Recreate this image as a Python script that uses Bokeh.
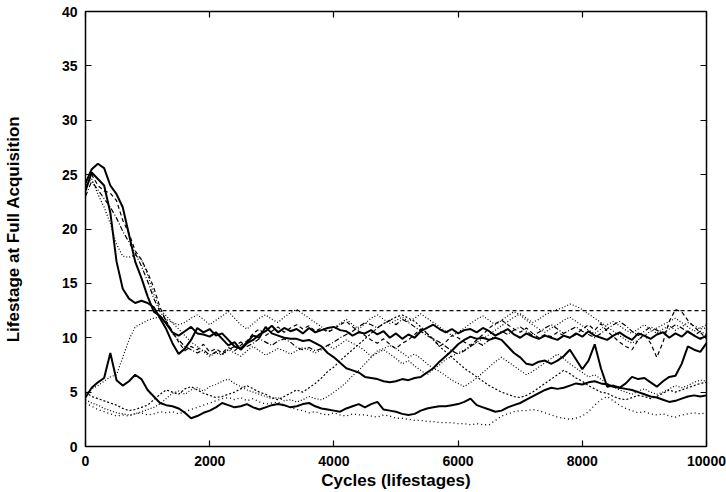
from bokeh.plotting import figure
from bokeh.models import Range1d, LinearAxis, FixedTicker, CustomJSTickFormatter, Span
from bokeh.embed import file_html
from bokeh.resources import INLINE

cycles = list(range(0, 10001, 100))

run_solid_a = [23.5, 25.2, 24.6, 24.0, 21.5, 17.0, 14.5, 13.6, 13.2, 13.4, 13.2, 12.8, 11.8, 10.8, 9.5, 8.5, 9.0, 9.8, 10.9, 10.5,
               10.8, 10.2, 10.4, 9.8, 9.2, 9.0, 9.6, 10.2, 10.0, 11.0, 10.4, 10.2, 10.0, 9.9, 9.9, 9.7, 9.8, 9.5, 9.2, 8.6,
               8.2, 7.7, 7.2, 7.0, 6.8, 6.4, 6.3, 6.2, 6.0, 5.9, 6.0, 6.2, 6.1, 6.3, 6.4, 6.8, 7.2, 7.8, 8.3, 8.8,
               9.4, 9.8, 10.1, 9.9, 10.0, 9.8, 10.0, 9.8, 9.2, 8.6, 8.2, 7.6, 7.5, 7.8, 7.9, 7.6, 7.9, 8.3, 8.9, 8.0,
               7.1, 7.9, 9.4, 7.2, 5.5, 5.6, 5.4, 5.8, 6.4, 6.2, 6.3, 5.9, 5.5, 6.0, 6.4, 6.5, 7.6, 9.2, 8.9, 8.7, 9.5]

run_solid_b = [24.2, 25.5, 26.0, 25.6, 24.0, 23.2, 22.0, 19.5, 17.0, 15.5, 13.8, 12.4, 12.0, 11.3, 10.5, 10.2, 10.6, 11.0, 10.4, 10.3,
               10.1, 10.5, 9.9, 9.3, 9.6, 8.9, 9.5, 9.8, 10.3, 10.6, 11.1, 10.5, 10.9, 10.6, 10.8, 10.4, 10.9, 10.5, 10.7, 10.9,
               11.0, 10.7, 10.6, 10.2, 10.5, 10.4, 10.7, 10.3, 10.6, 10.0, 10.4, 9.9, 10.3, 10.0, 10.6, 10.9, 11.2, 10.8, 10.5, 10.8,
               10.4, 10.7, 10.8, 10.5, 10.9, 10.6, 10.2, 10.5, 10.8, 10.3, 10.0, 10.4, 10.1, 9.9, 10.2, 10.0, 9.8, 10.2, 10.0, 10.4,
               10.1, 10.6, 10.2, 10.0, 9.8, 10.2, 10.5, 10.1, 9.8, 10.4, 10.2, 9.9, 10.3, 10.5, 10.0, 10.4, 10.1, 10.6, 10.2, 9.9, 10.2]

run_solid_c = [4.5, 5.4, 5.9, 6.3, 8.6, 6.1, 5.6, 6.0, 6.6, 6.2, 5.2, 4.6, 4.0, 3.8, 3.7, 3.5, 3.1, 2.6, 2.8, 3.1,
               3.3, 3.6, 4.0, 3.8, 3.6, 3.7, 3.9, 3.6, 3.4, 3.6, 3.8, 3.9, 3.8, 3.6, 3.7, 3.9, 4.0, 3.7, 3.5, 3.4,
               3.3, 3.2, 3.5, 3.7, 3.9, 3.6, 3.9, 4.1, 3.4, 3.3, 3.2, 3.0, 2.9, 3.0, 3.3, 3.5, 3.6, 3.7, 3.7, 3.8,
               3.9, 4.1, 4.4, 3.8, 3.6, 3.4, 3.2, 3.3, 3.6, 3.8, 4.0, 4.3, 4.6, 4.9, 5.2, 5.4, 5.3, 5.4, 5.6, 5.8,
               5.7, 5.9, 6.0, 5.8, 5.7, 5.5, 5.4, 5.3, 5.2, 5.0, 4.8, 4.6, 4.5, 4.3, 4.1, 4.2, 4.4, 4.6, 4.7, 4.6, 4.7]

run_dashed_a = [23.8, 25.0, 24.0, 23.5, 23.3, 22.6, 20.8, 19.6, 18.0, 17.2, 16.0, 14.6, 12.8, 11.5, 10.6, 9.6, 8.8, 9.2, 8.9, 9.4,
                8.7, 9.0, 8.6, 9.1, 8.8, 9.3, 9.7, 10.4, 10.8, 10.2, 10.6, 11.0, 10.5, 10.9, 11.2, 10.8, 11.1, 10.6, 10.9, 10.5,
                10.8, 11.2, 11.5, 11.0, 10.6, 10.2, 9.8, 9.5, 9.9, 9.4, 9.0, 9.5, 9.8, 10.3, 10.8, 10.4, 9.9, 9.2, 9.6, 10.2,
                10.0, 9.6, 9.3, 9.8, 10.3, 10.9, 11.3, 11.6, 11.2, 10.8, 10.5, 10.9, 10.4, 10.0, 10.3, 10.1, 10.5, 10.2, 10.0, 10.3,
                10.8, 11.2, 10.7, 11.3, 10.6, 10.1, 9.6, 9.2, 8.9, 9.8, 10.3, 9.5, 8.2, 9.6, 11.5, 12.6, 12.4, 11.6, 11.0, 10.5, 9.9]

run_dashdot = [23.0, 24.4, 23.6, 22.8, 22.0, 21.0, 19.8, 18.8, 17.8, 16.6, 15.2, 13.6, 12.4, 11.6, 10.4, 9.8, 9.2, 8.9, 8.6, 8.9,
               8.4, 8.7, 8.5, 8.9, 9.2, 9.6, 9.2, 9.5, 9.9, 9.6, 9.3, 9.7, 9.9, 9.6, 9.1, 8.9, 9.1, 8.8, 9.0, 9.3,
               9.6, 10.0, 10.3, 10.6, 11.0, 11.4, 11.2, 10.9, 11.3, 11.6, 11.2, 11.7, 11.4, 11.0, 10.6, 10.2, 9.9, 9.6, 9.2, 8.8,
               8.5, 8.8, 9.2, 9.6, 9.3, 9.8, 10.2, 10.6, 10.3, 10.7, 11.0, 10.6, 10.2, 10.5, 10.9, 11.2, 10.8, 10.4, 10.7, 11.0,
               10.6, 10.3, 10.0, 10.4, 10.8, 11.2, 11.5, 11.1, 10.6, 10.2, 10.6, 11.0, 10.7, 10.4, 10.8, 11.2, 10.9, 10.5, 10.2, 10.6, 10.3]

run_dotted_a = [24.0, 24.6, 23.2, 22.0, 20.5, 18.6, 17.5, 17.4, 17.6, 17.2, 15.8, 14.0, 12.6, 12.0, 11.4, 10.8, 10.2, 9.6, 9.2, 8.7,
                8.3, 8.6, 8.4, 8.9, 8.6, 8.3, 8.8, 9.2, 8.8, 8.4, 8.7, 9.0, 8.8, 8.5, 8.8, 9.1, 8.9, 8.6, 8.9, 9.3,
                9.0, 9.4, 9.8, 9.5, 9.2, 8.8, 8.3, 8.6, 8.9, 8.5, 8.1, 7.6, 7.9, 7.4, 7.0, 6.6, 7.1, 7.5, 8.0, 8.3,
                8.6, 8.9, 9.2, 9.6, 9.9, 10.3, 10.7, 11.1, 11.5, 11.9, 12.2, 11.8, 11.4, 11.7, 12.1, 12.4, 12.6, 12.8, 13.1, 12.9,
                12.6, 12.2, 11.8, 11.4, 11.0, 10.6, 10.2, 9.8, 9.5, 9.8, 10.2, 10.6, 10.9, 11.2, 11.5, 11.8, 11.4, 11.0, 10.6, 10.9, 11.2]

run_dotted_b = [4.8, 5.3, 5.6, 6.0, 6.4, 6.6, 8.2, 9.8, 11.0, 11.3, 11.6, 11.8, 11.9, 11.7, 11.4, 11.2, 11.4, 11.8, 12.1, 11.7,
                11.2, 11.6, 12.0, 12.4, 11.8, 11.2, 10.8, 11.3, 11.8, 12.1, 11.7, 11.4, 11.9, 12.3, 12.6, 12.2, 11.8, 11.4, 11.0, 10.6,
                10.9, 11.3, 11.7, 11.2, 10.8, 11.3, 11.8, 12.1, 11.7, 11.3, 11.6, 11.9, 11.5, 11.8, 12.2, 11.8, 11.4, 11.0, 10.6, 10.2,
                10.5, 10.9, 11.3, 11.7, 12.0, 11.6, 11.2, 11.6, 12.0, 12.4, 12.1, 11.6, 11.2, 10.8, 10.5, 10.9, 11.2, 11.6, 11.9, 11.5,
                11.1, 10.7, 10.4, 10.8, 11.2, 11.5, 11.1, 10.7, 10.4, 10.8, 11.2, 10.8, 10.4, 10.8, 11.1, 10.7, 11.0, 11.4, 11.1, 10.8, 10.9]

run_dotted_c = [4.3, 4.0, 3.8, 3.5, 3.3, 3.1, 3.0, 2.9, 3.0, 3.2, 3.4, 3.6, 3.9, 4.4, 4.9, 5.1, 4.8, 5.2, 5.4, 5.1,
                5.5, 5.7, 6.0, 6.2, 5.8, 5.5, 5.2, 5.0, 4.8, 4.6, 4.4, 4.5, 4.2, 4.3, 4.1, 4.3, 4.6, 4.4, 4.3, 4.6,
                5.0, 5.4, 5.9, 6.5, 7.0, 7.6, 8.2, 8.8, 9.0, 9.3, 9.0, 8.6, 8.2, 8.5, 8.1, 7.6, 7.2, 6.9, 6.5, 6.1,
                5.8, 5.5, 5.9, 6.3, 6.8, 7.3, 7.8, 8.2, 7.8, 7.4, 7.0, 6.6, 6.9, 7.3, 7.7, 8.1, 8.5, 8.1, 7.6, 7.2,
                6.8, 6.4, 6.6, 6.2, 5.8, 5.5, 5.2, 5.0, 4.8, 5.1, 5.3, 5.0, 4.8, 5.0, 5.3, 5.6, 5.4, 5.6, 5.9, 6.1, 6.0]

run_dotted_d = [4.0, 3.7, 3.4, 3.2, 3.0, 2.8, 2.9, 2.8, 3.0, 3.1, 2.9, 3.0, 3.2, 3.1, 3.2, 3.0, 3.2, 3.4, 3.6, 3.8,
                4.0, 4.2, 4.4, 4.5, 4.3, 4.5, 4.2, 4.4, 4.1, 3.9, 4.0, 4.1, 3.8, 3.6, 3.4, 3.3, 3.1, 3.2, 3.0, 2.9,
                3.1, 2.9, 2.8, 3.0, 2.9, 2.9, 2.8, 2.7, 2.9, 2.8, 2.6, 2.6, 2.5, 2.4, 2.4, 2.3, 2.3, 2.2, 2.2, 2.2,
                2.1, 2.1, 2.0, 2.1, 2.0, 2.0, 2.4, 2.8, 3.0, 3.2, 3.3, 3.3, 3.4, 3.3, 3.1, 2.9, 2.7, 2.6, 2.5, 2.6,
                2.8, 3.2, 3.8, 4.3, 4.6, 4.2, 3.8, 3.5, 3.3, 3.1, 3.2, 3.0, 2.9, 3.0, 2.8, 2.7, 2.9, 3.0, 3.1, 3.0, 3.1]

run_dotted_e = [5.0, 4.6, 4.4, 4.2, 4.0, 3.8, 3.5, 3.3, 3.4, 3.6, 3.8, 4.3, 4.8, 5.2, 5.0, 4.8, 5.3, 5.5, 5.2, 4.9,
                4.7, 4.5, 4.6, 4.8, 5.0, 5.3, 5.6, 5.3, 5.0, 4.8, 4.5, 4.3, 4.6, 4.9, 5.2, 5.0, 5.4, 5.8, 6.3, 6.9,
                7.3, 7.9, 8.4, 8.9, 9.4, 9.9, 10.4, 10.9, 11.3, 11.6, 11.9, 12.1, 11.8, 11.5, 11.0, 10.4, 9.8, 9.2, 8.7, 8.2,
                7.7, 7.2, 6.8, 6.4, 6.0, 5.6, 5.3, 5.0, 4.8, 4.6, 4.5, 4.7, 5.0, 5.4, 5.8, 6.2, 6.6, 7.0, 6.7, 6.3,
                6.0, 5.6, 5.3, 5.0, 4.9, 4.6, 4.4, 4.3, 4.5, 4.7, 4.6, 4.4, 4.6, 4.9, 5.2, 5.0, 5.2, 5.4, 5.6, 5.8, 5.9]

reference_level = 12.5
x_ticks = [0, 2000, 4000, 6000, 8000, 10000]
y_ticks = [0, 5, 10, 15, 20, 25, 30, 35, 40]

FONT = "Liberation Sans"

p = figure(width=726, height=492, output_backend="svg", toolbar_location=None,
           x_range=Range1d(0, 10000), y_range=Range1d(0, 40),
           min_border_left=84, min_border_right=20, min_border_top=11, min_border_bottom=46)
p.background_fill_color = "white"
p.border_fill_color = "white"
p.outline_line_color = "black"
p.outline_line_width = 1.5
p.xgrid.visible = False
p.ygrid.visible = False

styles = [
    (run_solid_a, "solid", 2.0),
    (run_solid_b, "solid", 2.0),
    (run_solid_c, "solid", 2.0),
    (run_dashed_a, "4 3", 1.2),
    (run_dashdot, "5 2 1 2", 1.2),
    (run_dotted_a, "1 2", 1.2),
    (run_dotted_b, "1 2", 1.2),
    (run_dotted_c, "1 2", 1.2),
    (run_dotted_d, "1 3", 1.3),
    (run_dotted_e, "2 2", 1.2),
]
for ys, dash, w in styles:
    p.line(cycles, ys, line_color="black", line_width=w, line_dash=dash)

p.add_layout(Span(location=reference_level, dimension="width", line_color="black",
                  line_width=1.2, line_dash="4 3"))

for ax in (p.xaxis[0], p.yaxis[0]):
    ax.major_tick_in = 6
    ax.major_tick_out = 0
    ax.minor_tick_in = 0
    ax.minor_tick_out = 0
    ax.axis_line_color = None
    ax.major_tick_line_color = "black"
    ax.major_tick_line_width = 1.2
    ax.major_label_text_font = FONT
    ax.major_label_text_font_style = "bold"
    ax.major_label_text_font_size = "14px"
    ax.major_label_text_color = "black"
    ax.axis_label_text_font = FONT
    ax.axis_label_text_font_style = "bold"
    ax.axis_label_text_font_size = "17px"
    ax.axis_label_text_color = "black"

p.xaxis[0].ticker = FixedTicker(ticks=x_ticks)
p.yaxis[0].ticker = FixedTicker(ticks=y_ticks)
p.xaxis[0].axis_label = "Cycles (lifestages)"
p.yaxis[0].axis_label = "Lifestage at Full Acquisition"
p.xaxis[0].major_label_standoff = 9
p.xaxis[0].axis_label_standoff = 2
p.yaxis[0].major_label_standoff = 8
p.yaxis[0].axis_label_standoff = 36

blank = CustomJSTickFormatter(code="return ''")
for loc, ticks in (("right", y_ticks), ("above", x_ticks)):
    ax = LinearAxis(ticker=FixedTicker(ticks=ticks), formatter=blank)
    ax.major_tick_in = 6
    ax.major_tick_out = 0
    ax.minor_tick_in = 0
    ax.minor_tick_out = 0
    ax.major_label_standoff = 0
    ax.axis_line_color = None
    ax.major_tick_line_color = "black"
    ax.major_tick_line_width = 1.2
    p.add_layout(ax, loc)

open("out.html", "w").write(file_html(p, INLINE))
